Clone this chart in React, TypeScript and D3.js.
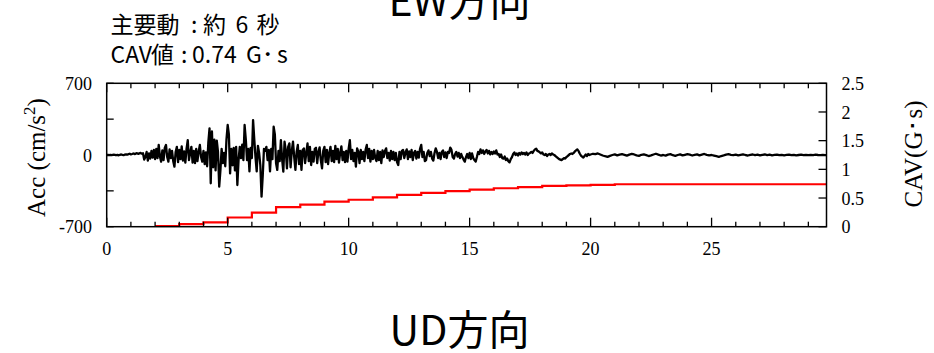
import React from 'react';
import * as d3 from 'd3';

// ---- data ----
const ACC_DT_HEAD = 0.05; // seconds, samples from t = 0
const accHead = [
  0, 2, -1, 1, -2, 1, 3, 0, -2, 1, -3, 2, 5, 1, -2, 4, 7, 3, 8, 12,
  6, 10, 15, 9, 14, 18, 11, 16, 20, 13, 17, -45, -20, 30, -55, 15, -35, 40, -25, 50,
  -40, 60, -30, 98, -15, -65, 45, -50, 70, 98, -20, -65, 55, -30, 40, -60, -114, 30, 80, -70,
  50, -40, 85, -55, 35, -75, 60, 146, -50, 20, 80, -75, 40, -80, 60, -60, 30, 98, -20, -65,
  40, -90, 25, -110, 120, 260, -276, 230, -120, 150, -150, 140, 30, -309, -150, 60, -80, 20, -110, 150,
  293, 200, -180, 60, -100, 70, -150, 80, -293, -50, 80, -30, 100, -50, 293, 150, -50, 60, -160, 70,
  -30, 341, 150, -20, -160, 90, 20, -100, -406, -200, 60, 40, 80, -50, 50, -160, 60, -40, 276, 200,
  -80, -146, 40, -60, 146, -40, -163, 130, 50, -130, 80, 114, -120, 40, 130, -20, -146, 30, 98, -90,
  40, -146, 50, 65, -80, 20, 114, -60, 80, -98, 30, -65, 60, 70, -80, 30, 75, -50, -130, 40,
  80, -70, 50, -90, 20, 80, -60, 40, -70, 90, -40, 60, -75, 20, 85, -50, 30, -70, 40, -65,
  60, 146, -40, 50, -60, 20, -114, 65, 30, -80, 50, -40, 30, -60, 50, 98, -30, 60, -65, 40,
  -40, 50, -30, -60, 40, -50, 30, -80, 45, -20, 40, 65, -30, 20, -55, 40, -40, 30, -50, 20,
  -70, -98, 30, -40, 40, 50, -30, 25, 55, -40, 35, -20, 50, -50, 20, 40, -35, 30, -25, 60,
  98, -20, 30, -60, -50, 20, 45, -10, 30, -35, -55, 20, 65, 30, -30, 20, -40, 30, 45, -20,
  25, -30, 30, 20, 72, 50, -20, -35, 10, 30, -15, 20, -30, 10, -20, -45, -65, -20, 10, -30,
  20, -40, 15, -30, -50, -65, -20, 30, 10, 55, 20, 45, 10, 35, 50, 15, 40, 5, 30, 10,
  35, 15, 45, 5, 10, -20, 5, -30, -35, -15, -50, -35, -60, -72, -40, -20, 10, 25, 0, 15,
  -5, 20, 5, 25, 10, 20, 5, 25, 0, 15, 20, 30, 20, 40, 55, 62, 40, 35, 25, 15,
  25, 5, 0, 10, -10, 5, 10, 0, 15, 5, 0, -10, -20, -30, -40, -45, -50, -40, -30, -35,
  -20, -10, 0, 10, 15, 10, 20, 35, 45, 55, 40, 15, -5, -15, -25, -10, 5, -10, 10, 0,
];
const ACC_TAIL_START = 20; // seconds
const ACC_DT_TAIL = 0.1;
const accTail = [
  5, 12, 8, 15, 5, -5, -12, -18, -8, 0,
  6, -4, 3, 8, 2, -6, 4, 10, 5, -3,
  -8, 2, 6, -2, -10, -4, 5, 12, 3, -5,
  0, -6, 4, 8, -2, -8, 0, 6, -4, 2,
  8, 3, -5, 2, 6, -3, 4, 10, 2, -4,
  0, -6, -12, -18, -10, -4, 3, 8, 2, -2,
  4, -3, 2, 6, 0, -5, 2, 5, -2, 3,
  -4, 2, 5, -1, 3, -3, 1, 4, -2, 2,
  -3, 1, 4, -2, 2, -4, 0, 3, -2, 1,
  -2, 2, -1, 3, 0, -2, 1, -1, 0,
];
const cavSeconds = [2, 3, 4, 5, 6, 7, 8, 9, 10, 11, 12, 13, 14, 15, 16, 17, 18, 19, 20, 21];
const cavValues = [0.012, 0.045, 0.075, 0.16, 0.244, 0.34, 0.385, 0.436, 0.47, 0.51, 0.555, 0.59, 0.62, 0.645, 0.67, 0.69, 0.71, 0.72, 0.73, 0.74];
const X_MAX = 29.75;
const xMajorTicks = [0, 5, 10, 15, 20, 25];
const accTickValues = [-700, 0, 700];
const accMinorTicks = [-350, 350];
const cavTickValues = [0, 0.5, 1, 1.5, 2, 2.5];
const cavTickLabels = ['0', '0.5', '1', '1.5', '2', '2.5'];
const titleTop = 'EW方向';
const titleBottom = 'UD方向';

// ---- layout ----
const W = 934;
const H = 353;
const L = 106.7;
const R = 826.5;
const T = 83.3;
const B = 226.7;
const SERIF = "'Liberation Serif', 'Times New Roman', serif";
const SANS = "'Noto Sans CJK JP', 'Noto Sans', sans-serif";

export default function App() {
  const x = d3.scaleLinear().domain([0, X_MAX]).range([L, R]);
  const yAcc = d3.scaleLinear().domain([-700, 700]).range([B, T]);
  const yCav = d3.scaleLinear().domain([0, 2.5]).range([B, T]);

  const accPts: [number, number][] = [
    ...accHead.map((v, i) => [i * ACC_DT_HEAD, v] as [number, number]),
    ...accTail.map((v, i) => [ACC_TAIL_START + i * ACC_DT_TAIL, v] as [number, number]),
  ];
  const accLine = d3
    .line<[number, number]>()
    .x((d) => x(d[0]))
    .y((d) => yAcc(d[1]));

  const cavPts: [number, number][] = cavSeconds.map((s, i) => [s, cavValues[i]]);
  cavPts.push([X_MAX, cavValues[cavValues.length - 1]]);
  const cavLine = d3
    .line<[number, number]>()
    .x((d) => x(d[0]))
    .y((d) => yCav(d[1]))
    .curve(d3.curveStepAfter);

  const minorX = d3.range(0, Math.floor(X_MAX) + 1).filter((t) => t % 5 !== 0);

  return (
    <svg
      width={W}
      height={H}
      viewBox={`0 0 ${W} ${H}`}
      style={{ position: 'absolute', left: 0, top: 0, background: '#fff' }}
    >
      <defs>
        <clipPath id="plotClip">
          <rect x={L} y={T} width={R - L} height={B - T} />
        </clipPath>
      </defs>
      <rect x={0} y={0} width={W} height={H} fill="#fff" />

      {/* titles */}
      <text x={459.5} y={16} fontFamily={SANS} fontSize={41} textAnchor="middle" fill="#000">
        {titleTop}
      </text>
      <text x={459.5} y={345} fontFamily={SANS} fontSize={41} textAnchor="middle" fill="#000">
        {titleBottom}
      </text>

      {/* info text */}
      <text y={32.5} fontFamily={SANS} fontSize={23} fill="#000">
        <tspan x={110.5}>主要動</tspan>
        <tspan x={191}>:</tspan>
        <tspan x={203}>約</tspan>
        <tspan x={235.5}>6</tspan>
        <tspan x={256.5}>秒</tspan>
      </text>
      <text y={63.3} fontFamily={SANS} fontSize={23} fill="#000">
        <tspan x={110.5}>CAV</tspan>
        <tspan x={151}>値</tspan>
        <tspan x={181}>:</tspan>
        <tspan x={192}>0.74</tspan>
        <tspan x={246}>G</tspan>
        <tspan x={262}>･</tspan>
        <tspan x={277}>s</tspan>
      </text>

      {/* data */}
      <g clipPath="url(#plotClip)">
        <path d={cavLine(cavPts) || ''} fill="none" stroke="#ff0000" strokeWidth={2.2} />
        <path d={accLine(accPts) || ''} fill="none" stroke="#000" strokeWidth={2.3} strokeLinejoin="round" />
      </g>

      {/* frame */}
      <rect x={L} y={T} width={R - L} height={B - T} fill="none" stroke="#000" strokeWidth={1.5} />

      {/* x ticks */}
      {xMajorTicks.map((t) => (
        <g key={'xM' + t}>
          <line x1={x(t)} x2={x(t)} y1={B} y2={B - 9} stroke="#000" strokeWidth={1.3} />
          <line x1={x(t)} x2={x(t)} y1={T} y2={T + 9} stroke="#000" strokeWidth={1.3} />
          <text x={x(t)} y={255} fontFamily={SERIF} fontSize={18} textAnchor="middle" fill="#000">
            {t}
          </text>
        </g>
      ))}
      {minorX.map((t) => (
        <g key={'xm' + t}>
          <line x1={x(t)} x2={x(t)} y1={B} y2={B - 5} stroke="#000" strokeWidth={1.3} />
          <line x1={x(t)} x2={x(t)} y1={T} y2={T + 5} stroke="#000" strokeWidth={1.3} />
        </g>
      ))}

      {/* left acc axis */}
      {accTickValues.map((v) => (
        <g key={'ya' + v}>
          <line x1={L} x2={L + 7} y1={yAcc(v)} y2={yAcc(v)} stroke="#000" strokeWidth={1.3} />
          <text x={92} y={yAcc(v) + 6.7} fontFamily={SERIF} fontSize={18} textAnchor="end" fill="#000">
            {v}
          </text>
        </g>
      ))}
      {accMinorTicks.map((v) => (
        <line key={'yam' + v} x1={L} x2={L + 7} y1={yAcc(v)} y2={yAcc(v)} stroke="#000" strokeWidth={1.3} />
      ))}

      {/* right cav axis */}
      {cavTickValues.map((v, i) => (
        <g key={'yc' + v}>
          <line x1={R} x2={R - 8} y1={yCav(v)} y2={yCav(v)} stroke="#000" strokeWidth={1.3} />
          <text x={841.5} y={yCav(v) + 6.7} fontFamily={SERIF} fontSize={18} textAnchor="start" fill="#000">
            {cavTickLabels[i]}
          </text>
        </g>
      ))}

      {/* axis titles */}
      <text
        transform="translate(45,157.5) rotate(-90)"
        fontFamily={SERIF}
        fontSize={25}
        textAnchor="middle"
        fill="#000"
      >
        Acc (cm/s<tspan fontSize={17} dy={-10}>2</tspan>
        <tspan dy={10}>)</tspan>
      </text>
      <text
        transform="translate(921.7,154) rotate(-90)"
        fontFamily={SERIF}
        fontSize={25}
        textAnchor="middle"
        fill="#000"
      >
        CAV(G･s)
      </text>
    </svg>
  );
}
